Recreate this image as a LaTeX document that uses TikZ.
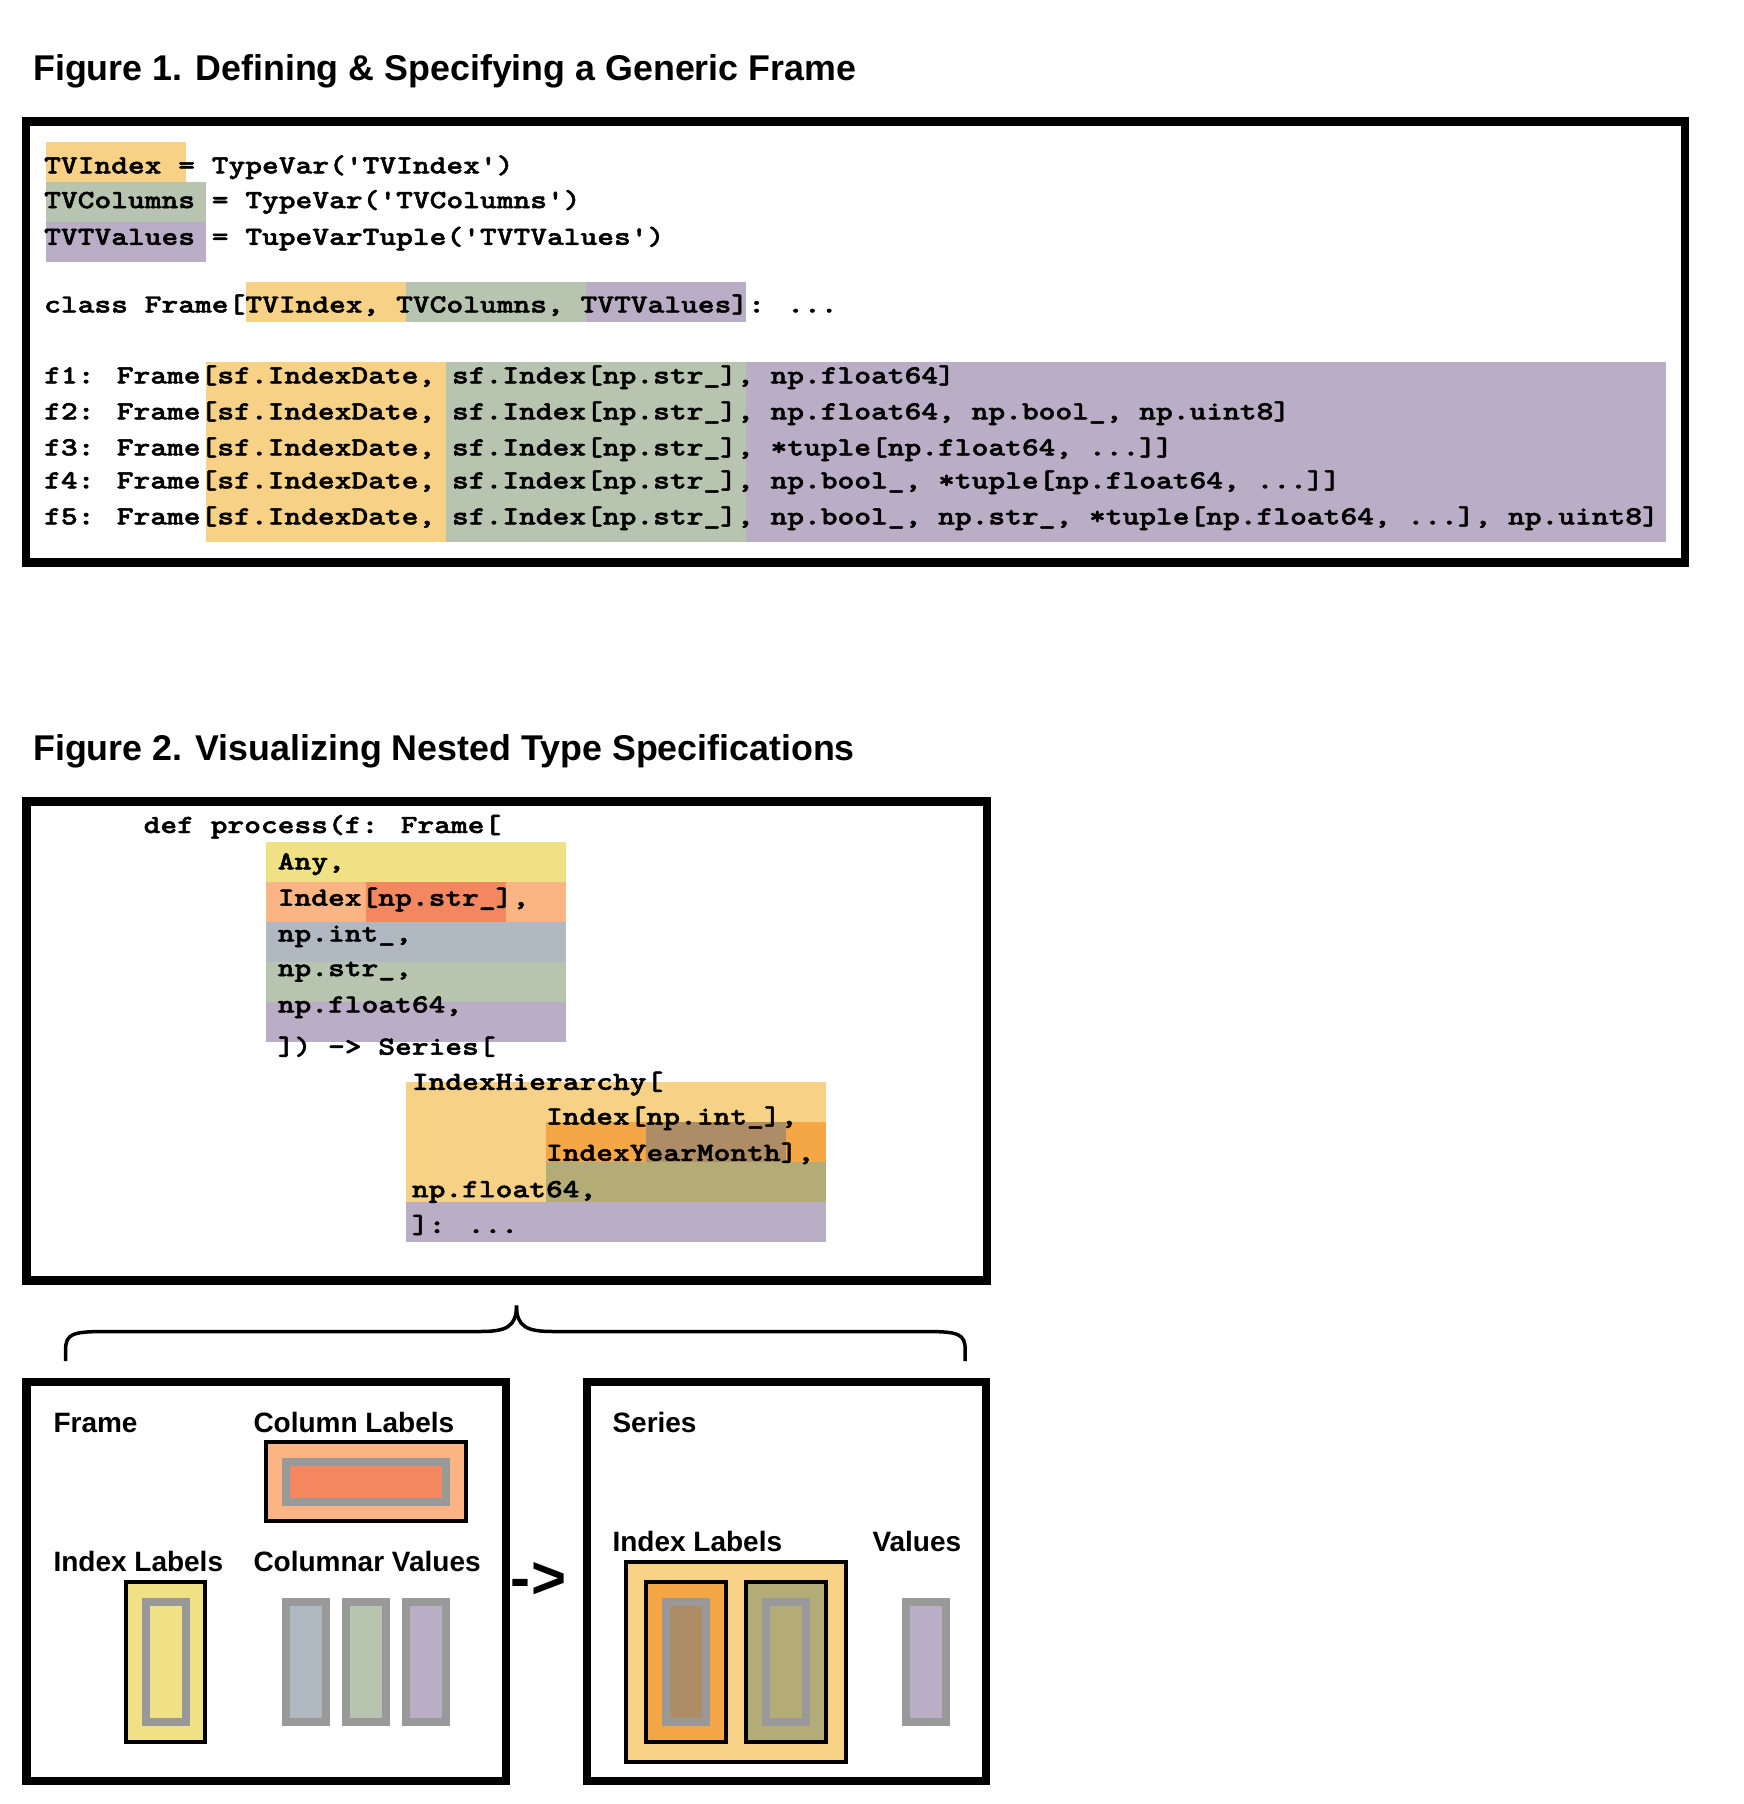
\documentclass[tikz,border=0pt]{standalone}
\usepackage{fontspec}
\setmainfont{Liberation Sans}
\newfontfamily\codefont[Ligatures=TeXOff,FakeStretch=1.22,FakeBold=1.8]{lmmonolt10-bold.otf}
\definecolor{cYel}{HTML}{F7D286}
\definecolor{cGrn}{HTML}{B7C4B0}
\definecolor{cPur}{HTML}{BAAEC6}
\definecolor{cAny}{HTML}{F0E284}
\definecolor{cLOr}{HTML}{FBB584}
\definecolor{cROr}{HTML}{F3875F}
\definecolor{cBlu}{HTML}{B0B8C2}
\definecolor{cOrg}{HTML}{F5A645}
\definecolor{cBrn}{HTML}{AE8C66}
\definecolor{cOlv}{HTML}{B3AC76}
\definecolor{cGry}{HTML}{999999}
\begin{document}
\begin{tikzpicture}[x=1pt,y=-1pt,
  code/.style={anchor=base west,inner sep=0pt,font={\codefont\fontsize{26.17}{31}\selectfont}},
  figtitle/.style={anchor=base west,inner sep=0pt,font={\bfseries\fontsize{35.8}{40}\selectfont}},
  lab/.style={anchor=base west,inner sep=0pt,font={\bfseries\fontsize{28}{31}\selectfont}},
  bigframe/.style={draw=black,line width=8.7pt},
  blackbox/.style={draw=black,line width=4pt},
  graybox/.style={draw=cGry,line width=8.2pt},
  brace/.style={draw=black,line width=3.5pt}]
\useasboundingbox (0,0) rectangle (1744,1804);

% ---------------- Figure 1 ----------------
\node[figtitle] (t1) at (33,80) {Figure 1. Defining \& Specifying a Generic Frame};

\fill[cYel] (46,142) rectangle (186,181.7);
\fill[cGrn] (46,181.7) rectangle (205.7,221.7);
\fill[cPur] (46,221.7) rectangle (205.7,261.7);
\fill[cYel] (246,282) rectangle (406,321.7);
\fill[cGrn] (406,282) rectangle (586,321.7);
\fill[cPur] (586,282) rectangle (745.5,321.7);
\fill[cYel] (206,361.7) rectangle (446,541.5);
\fill[cGrn] (446,361.7) rectangle (745.5,541.5);
\fill[cPur] (745.5,361.7) rectangle (1665.7,541.5);

\node[code] (l1) at (44,173.4) {TVIndex = TypeVar('TVIndex')};
\node[code] (l2) at (44,208.1) {TVColumns = TypeVar('TVColumns')};
\node[code] (l3) at (44,244.8) {TVTValues = TupeVarTuple('TVTValues')};
\node[code] (l4) at (44,312.5) {class Frame[TVIndex, TVColumns, TVTValues]: ...};
\node[code] (f1) at (44,383.4) {f1: Frame[sf.IndexDate, sf.Index[np.str\_], np.float64]};
\node[code] (f2) at (44,419.4) {f2: Frame[sf.IndexDate, sf.Index[np.str\_], np.float64, np.bool\_, np.uint8]};
\node[code] (f3) at (44,455.4) {f3: Frame[sf.IndexDate, sf.Index[np.str\_], *tuple[np.float64, ...]]};
\node[code] (f4) at (44,488.4) {f4: Frame[sf.IndexDate, sf.Index[np.str\_], np.bool\_, *tuple[np.float64, ...]]};
\node[code] (f5) at (44,524.4) {f5: Frame[sf.IndexDate, sf.Index[np.str\_], np.bool\_, np.str\_, *tuple[np.float64, ...], np.uint8]};

\draw[bigframe] (26,121.7) rectangle (1685,562.8);

% ---------------- Figure 2 ----------------
\node[figtitle] (t2) at (33,760) {Figure 2. Visualizing Nested Type Specifications};

\fill[cAny] (266,842) rectangle (566,882);
\fill[cLOr] (266,882) rectangle (566,922);
\fill[cROr] (366,882) rectangle (506,922);
\fill[cBlu] (266,922) rectangle (566,962);
\fill[cGrn] (266,962) rectangle (566,1002);
\fill[cPur] (266,1002) rectangle (566,1042);

\fill[cYel] (406,1082) rectangle (826,1202);
\fill[cOrg] (546,1122) rectangle (826,1162);
\fill[cBrn] (646,1122) rectangle (786,1162);
\fill[cOlv] (546,1162) rectangle (826,1202);
\fill[cPur] (406,1202) rectangle (826,1242);

\node[code] (d1) at (143.5,833) {def process(f: Frame[};
\node[code] (d2) at (277.6,869.4) {Any,};
\node[code] (d3) at (277.6,905.7) {Index[np.str\_],};
\node[code] (d4) at (277.6,941.5) {np.int\_,};
\node[code] (d5) at (277.6,976.1) {np.str\_,};
\node[code] (d6) at (277.6,1012.5) {np.float64,};
\node[code] (d7) at (277.6,1054.7) {]) -> Series[};
\node[code] (d8) at (411.7,1089.8) {IndexHierarchy[};
\node[code] (d9) at (545.8,1124.5) {Index[np.int\_],};
\node[code] (d10) at (545.8,1160.8) {IndexYearMonth],};
\node[code] (d11) at (411.7,1197.2) {np.float64,};
\node[code] (d12) at (411.7,1233) {]: ...};

\draw[bigframe] (26.7,801.7) rectangle (987,1280.5);

% brace
\draw[brace] (65.6,1361) -- (65.6,1350) .. controls (65.6,1334) and (72,1331.5) .. (105,1331.5)
  -- (480,1331.5) .. controls (506,1331.5) and (516.5,1327) .. (516.5,1305.5);
\draw[brace] (965.2,1361) -- (965.2,1350) .. controls (965.2,1334) and (958.8,1331.5) .. (925.8,1331.5)
  -- (553,1331.5) .. controls (527,1331.5) and (516.5,1327) .. (516.5,1305.5);

% ---------------- Frame box ----------------
\draw[bigframe] (26.5,1382) rectangle (506,1781);
\node[lab] (fr) at (53.3,1432) {Frame};
\node[lab] (cl) at (253.3,1432) {Column Labels};
\node[lab] (il) at (53.3,1571.8) {Index Labels};
\node[lab] (cv) at (253.3,1571.8) {Columnar Values};

\draw[blackbox,fill=cLOr] (266,1442.4) rectangle (465.5,1521.3);
\draw[graybox,fill=cROr] (286,1462) rectangle (446,1502);
\draw[blackbox,fill=cAny] (126.4,1582) rectangle (205.3,1742);
\draw[graybox,fill=cAny] (145.8,1602) rectangle (186,1722);
\draw[graybox,fill=cBlu] (286,1602) rectangle (325.7,1722);
\draw[graybox,fill=cGrn] (345.8,1602) rectangle (386.3,1722);
\draw[graybox,fill=cPur] (405.8,1602) rectangle (446.3,1722);

% arrow text
\node[anchor=base west,inner sep=0pt,font={\bfseries\fontsize{60}{64}\selectfont}] (arr) at (510,1598) {-\kern1pt>};

% ---------------- Series box ----------------
\draw[bigframe] (587,1382) rectangle (986,1781);
\node[lab] (se) at (612.3,1432) {Series};
\node[lab] (sil) at (612.3,1551.7) {Index Labels};
\node[lab] (sv) at (872.3,1551.7) {Values};

\draw[blackbox,fill=cYel] (625.7,1562) rectangle (846.2,1761.6);
\draw[blackbox,fill=cOrg] (646,1582) rectangle (726.3,1742);
\draw[graybox,fill=cBrn] (666,1602) rectangle (706,1722);
\draw[blackbox,fill=cOlv] (746.3,1582) rectangle (825.8,1742);
\draw[graybox,fill=cOlv] (766,1602) rectangle (806,1722);
\draw[graybox,fill=cPur] (905.8,1602) rectangle (946.3,1722);
\end{tikzpicture}
\end{document}
